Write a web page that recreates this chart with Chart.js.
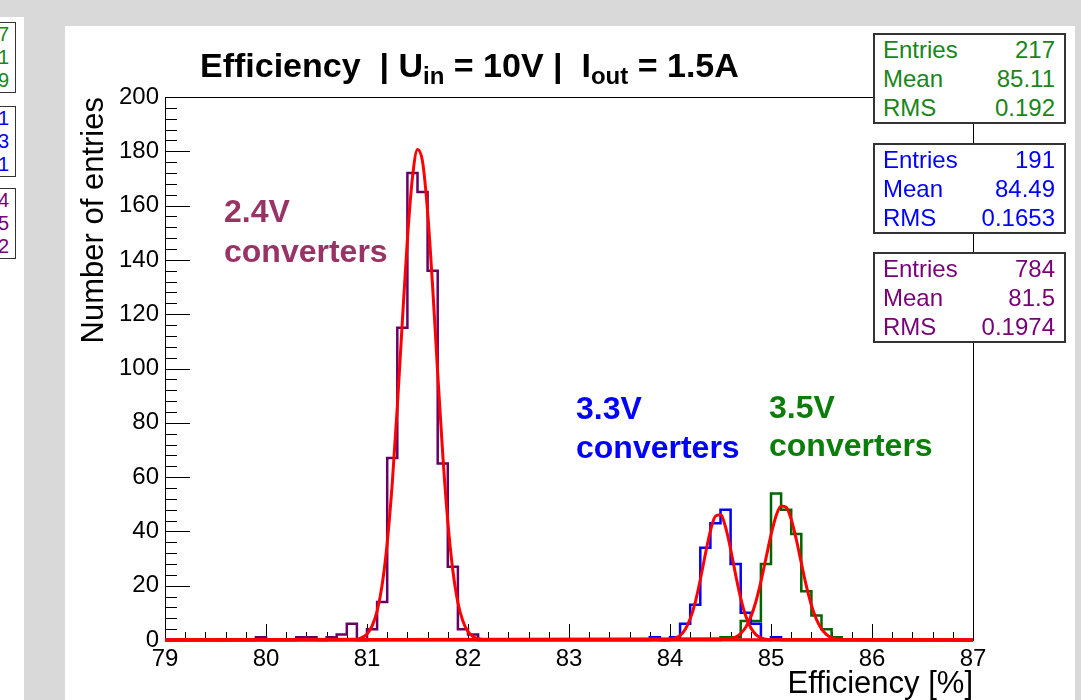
<!DOCTYPE html>
<html>
<head>
<meta charset="utf-8">
<script src="https://cdn.jsdelivr.net/npm/chart.js@4.4.0/dist/chart.umd.min.js"></script>
<style>
  body { margin: 0; width: 1081px; height: 700px; overflow: hidden; position: relative;
         background: #d9d9d9; font-family: "Liberation Sans", Arial, Helvetica, sans-serif; }
  .strip { position: absolute; left: 0; top: 17px; width: 24px; height: 683px; background: #fff; overflow: hidden; }
  .strip .sbox { position: absolute; left: -60px; width: 68px; border: 1.5px solid #333; background: #fff;
                 font-size: 20px; text-align: right; padding-right: 6px; line-height: 23px; }
  .panel { position: absolute; left: 65px; top: 26px; width: 1010px; height: 674px; background: #fff; }
  #chart { position: absolute; left: 0; top: 0; }
  .title { position: absolute; left: 200px; top: 48px; font-weight: bold; font-size: 34px; line-height: 34px;
           white-space: pre; color: #000; }
  .title sub { font-size: 24px; vertical-align: -7px; line-height: 0; }
  .lbl { position: absolute; font-weight: bold; font-size: 32px; white-space: pre; }
  .stats { position: absolute; left: 873px; width: 189px; border: 2px solid #333; background: #fff; }
  .stats .row { height: 29px; line-height: 29px; font-size: 24px; display: flex; justify-content: space-between;
                padding: 0 9px 0 8px; }
</style>
</head>
<body>
<div class="strip">
  <div class="sbox" style="top:5px;color:#1a851a"><div>7</div><div>1</div><div>9</div></div>
  <div class="sbox" style="top:89px;color:#0000ff"><div>1</div><div>3</div><div>1</div></div>
  <div class="sbox" style="top:171px;color:#770077"><div>4</div><div>5</div><div>2</div></div>
</div>
<div class="panel"><canvas id="chart" width="1010" height="674"></canvas></div>
<div class="title">Efficiency  | U<sub>in</sub> = 10V |  I<sub>out</sub> = 1.5A</div>
<div class="lbl" style="left:224px;top:191px;line-height:40px;color:#993366">2.4V
converters</div>
<div class="lbl" style="left:576px;top:389px;line-height:39px;color:#0000ff">3.3V
converters</div>
<div class="lbl" style="left:769px;top:388px;line-height:38px;color:#0b7d0b">3.5V
converters</div>
<div id="stats"></div>
<script>
'use strict';

// axis ranges and tick labels
const xMin = 79;
const xMax = 87;
const binWidth = 0.1;
const xTickLabels = [79, 80, 81, 82, 83, 84, 85, 86, 87];
const yTickLabels = [0, 20, 40, 60, 80, 100, 120, 140, 160, 180, 200];
const xMinorStep = 0.2;
const yMinorStep = 4;

// histogram contents, one count per 0.1 bin starting at the given lower edge
const start24 = 79.9;
const counts24 = [1, 0, 0, 0, 1, 1, 0, 1, 2, 6, 0, 4, 14, 67, 115, 172, 165, 136, 65, 27, 4, 2];
const start33 = 83.8;
const counts33 = [1, 0, 1, 6, 13, 34, 43, 48, 28, 10, 6, 0, 1];
const start35 = 84.5;
const counts35 = [1, 1, 7, 7, 28, 54, 48, 39, 18, 9, 4, 1];

// gaussian fits, points
const fitX24 = [79, 80.9, 80.95, 81.0, 81.05, 81.1, 81.15, 81.2, 81.25, 81.3, 81.35, 81.4, 81.45, 81.5,
  81.55, 81.6, 81.65, 81.7, 81.75, 81.8, 81.85, 81.9, 81.95, 82.0, 82.05, 82.1, 82.15, 87];
const fitY24 = [0, 0.3, 0.9, 2.2, 5.1, 10.6, 20.3, 35.7, 57.7, 85.9, 117.4, 147.5, 170.3, 180.7,
  176.2, 157.8, 130.0, 98.3, 68.4, 43.7, 25.6, 13.8, 6.9, 3.1, 1.3, 0.5, 0.2, 0];
const fitX33 = [79, 83.95, 84.0, 84.05, 84.1, 84.15, 84.2, 84.25, 84.3, 84.35, 84.4, 84.45, 84.5,
  84.55, 84.6, 84.65, 84.7, 84.75, 84.8, 84.85, 84.9, 84.95, 85.0, 87];
const fitY33 = [0, 0.1, 0.2, 0.7, 1.7, 3.9, 7.8, 13.9, 22.2, 31.6, 40.2, 45.6, 46.1,
  41.6, 33.5, 24.0, 15.4, 8.8, 4.5, 2.0, 0.8, 0.3, 0.1, 0];
const fitX35 = [79, 84.6, 84.65, 84.7, 84.75, 84.8, 84.85, 84.9, 84.95, 85.0, 85.05, 85.1, 85.15,
  85.2, 85.25, 85.3, 85.35, 85.4, 85.45, 85.5, 85.55, 85.6, 85.65, 85.7, 87];
const fitY35 = [0, 0.5, 1.1, 2.4, 4.7, 8.5, 14.1, 21.5, 30.1, 38.7, 45.7, 49.4, 48.9,
  44.5, 37.1, 28.4, 19.9, 12.8, 7.6, 4.1, 2.0, 0.9, 0.4, 0.2, 0];

// stats boxes
const statNames = ['Entries', 'Mean', 'RMS'];
const stats35 = ['217', '85.11', '0.192'];
const stats33 = ['191', '84.49', '0.1653'];
const stats24 = ['784', '81.5', '0.1974'];

const renderStats = () => {
  const boxes = [
    { vals: stats35, top: 33, color: '#1a851a' },
    { vals: stats33, top: 143, color: '#0000ff' },
    { vals: stats24, top: 252, color: '#770077' },
  ];
  document.getElementById('stats').innerHTML = boxes.map(b => `
    <div class="stats" style="top:${b.top}px;color:${b.color}">
      ${statNames.map((n, i) => `<div class="row"><span>${n}</span><span>${b.vals[i]}</span></div>`).join('')}
    </div>`).join('');
};

const histPoints = (start, counts) => {
  const nBins = Math.round((xMax - xMin) / binWidth);
  const first = Math.round((start - xMin) / binWidth);
  const pts = [];
  for (let i = 0; i < nBins; i++) {
    pts.push({ x: +(xMin + i * binWidth).toFixed(2), y: counts[i - first] || 0 });
  }
  pts.push({ x: xMax, y: 0 });
  return pts;
};

const fitPoints = (xs, ys) => xs.map((x, i) => ({ x, y: ys[i] }));

// ROOT style frame with inward ticks
const axisTicks = {
  id: 'axisTicks',
  beforeDatasetsDraw(chart) {
    const { ctx, chartArea: a, scales: { x, y } } = chart;
    ctx.save();
    ctx.strokeStyle = '#000';
    ctx.lineWidth = 1;
    ctx.beginPath();
    const nx = Math.round((xMax - xMin) / xMinorStep);
    for (let i = 0; i <= nx; i++) {
      const v = xMin + i * xMinorStep;
      const px = Math.round(x.getPixelForValue(v)) + 0.5;
      const major = xTickLabels.some(t => Math.abs(t - v) < 1e-6);
      ctx.moveTo(px, a.bottom);
      ctx.lineTo(px, a.bottom - (major ? 16 : 8));
    }
    const yMax = yTickLabels[yTickLabels.length - 1];
    for (let v = 0; v <= yMax; v += yMinorStep) {
      const py = Math.round(y.getPixelForValue(v)) + 0.5;
      const major = yTickLabels.includes(v);
      ctx.moveTo(a.left, py);
      ctx.lineTo(a.left + (major ? 25 : 12), py);
    }
    ctx.stroke();
    ctx.strokeRect(Math.round(a.left) + 0.5, Math.round(a.top) + 0.5, Math.round(a.width), Math.round(a.height));
    ctx.restore();
  },
};

const histStyle = (color) => ({
  borderColor: color, borderWidth: 2.5, stepped: 'before', pointRadius: 0, fill: false, order: 2, clip: 6,
});
const fitStyle = {
  borderColor: '#ff0000', borderWidth: 3, pointRadius: 0, fill: false, order: 1, clip: 6,
  cubicInterpolationMode: 'monotone',
};

Chart.defaults.font.family = '"Liberation Sans", Arial, Helvetica, sans-serif';
Chart.defaults.color = '#000';

new Chart(document.getElementById('chart'), {
  type: 'line',
  data: {
    datasets: [
      { label: '2.4V', data: histPoints(start24, counts24), ...histStyle('#660066') },
      { label: '3.3V', data: histPoints(start33, counts33), ...histStyle('#0000ff') },
      { label: '3.5V', data: histPoints(start35, counts35), ...histStyle('#006400') },
      { label: 'fit 2.4V', data: fitPoints(fitX24, fitY24), ...fitStyle },
      { label: 'fit 3.3V', data: fitPoints(fitX33, fitY33), ...fitStyle },
      { label: 'fit 3.5V', data: fitPoints(fitX35, fitY35), ...fitStyle },
    ],
  },
  options: {
    responsive: false,
    animation: false,
    devicePixelRatio: 1,
    layout: { padding: { left: 10, top: 71, right: 102, bottom: 0 } },
    plugins: { legend: { display: false }, tooltip: { enabled: false } },
    scales: {
      x: {
        type: 'linear',
        min: xMin,
        max: xMax,
        afterFit: (s) => { s.height = 60; },
        afterBuildTicks: (s) => { s.ticks = xTickLabels.map(v => ({ value: v })); },
        ticks: { font: { size: 24 }, padding: 5, maxRotation: 0, color: '#000' },
        grid: { display: false, drawTicks: false },
        border: { display: false },
        title: { display: true, text: 'Efficiency [%]', align: 'end', font: { size: 31, lineHeight: 1 },
                 padding: 0, color: '#000' },
      },
      y: {
        type: 'linear',
        min: 0,
        max: 200,
        afterFit: (s) => { s.width = 90; },
        afterBuildTicks: (s) => { s.ticks = yTickLabels.map(v => ({ value: v })); },
        ticks: { font: { size: 24 }, padding: 6, color: '#000' },
        grid: { display: false, drawTicks: false },
        border: { display: false },
        title: { display: true, text: 'Number of entries', align: 'end', font: { size: 31, lineHeight: 1 },
                 padding: { top: 4, bottom: 0 }, color: '#000' },
      },
    },
  },
  plugins: [axisTicks],
});

renderStats();
</script>
</body>
</html>
